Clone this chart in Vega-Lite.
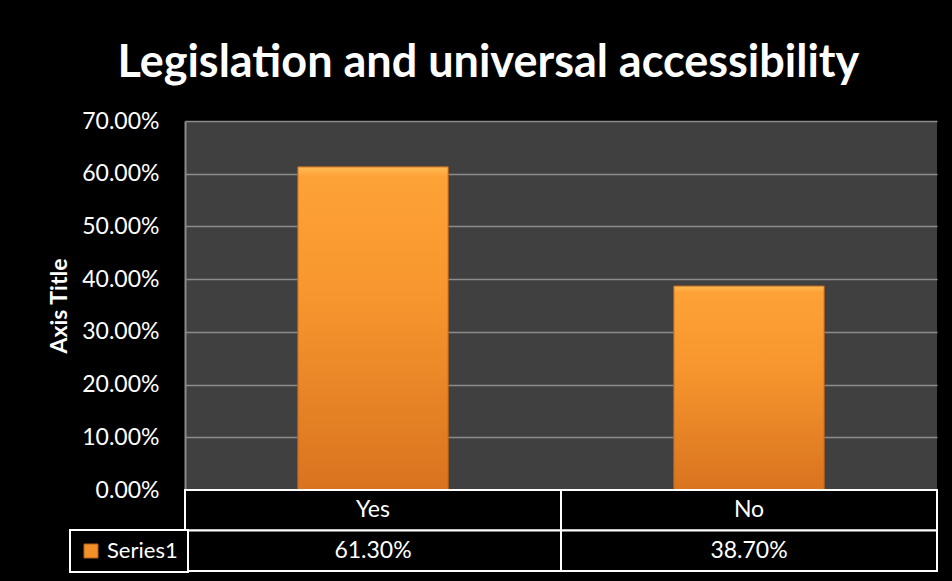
{
  "$schema": "https://vega.github.io/schema/vega-lite/v6.json",
  "background": "#000000",
  "padding": {"left": 48, "top": 41, "right": 14, "bottom": 11},
  "autosize": {"type": "pad"},
  "bounds": "flush",
  "spacing": 0,
  "title": {"text": "Legislation and universal accessibility", "font": "Lato", "fontSize": 45, "fontWeight": "bold", "color": "#ffffff", "anchor": "middle", "offset": 24, "dx": -5},
  "data": {"values": [
    {"category": "Yes", "value": 0.613, "series": "Series1"},
    {"category": "No", "value": 0.387, "series": "Series1"}
  ]},
  "config": {"view": {"stroke": null}, "font": "Lato", "legend": {"strokeWidth": 2}},
  "resolve": {"scale": {"x": "independent", "y": "independent", "color": "independent"}, "legend": {"color": "independent"}},
  "vconcat": [
    {
      "width": 752,
      "height": 369,
      "view": {"fill": "#404040", "stroke": null},
      "mark": {
        "type": "bar",
        "fill": {"gradient": "linear", "x1": 0, "y1": 0, "x2": 0, "y2": 1, "stops": [
          {"offset": 0, "color": "#ffbb55"},
          {"offset": 0.03, "color": "#fda236"},
          {"offset": 0.4, "color": "#f7962e"},
          {"offset": 1, "color": "#d9731f"}
        ]},
        "stroke": "#b8621c",
        "strokeWidth": 1
      },
      "encoding": {
        "x": {"field": "category", "type": "nominal", "sort": ["Yes", "No"], "scale": {"paddingInner": 0.6, "paddingOuter": 0.3}, "axis": null},
        "y": {"field": "value", "type": "quantitative", "scale": {"domain": [0, 0.7]},
          "axis": {"title": "Axis Title", "format": ".2%", "values": [0, 0.1, 0.2, 0.3, 0.4, 0.5, 0.6, 0.7],
            "labelColor": "#ffffff", "labelFontSize": 23, "labelFont": "Lato", "labelPadding": 26,
            "ticks": false, "domainColor": "#8c8c8c", "domainWidth": 2,
            "gridColor": "#8c8c8c", "gridWidth": 1.5,
            "titleColor": "#ffffff", "titleFontSize": 23, "titleFontWeight": "bold", "titleFont": "Lato", "titlePadding": 10}}
      }
    },
    {
      "width": 752,
      "height": 81,
      "layer": [
        {
          "mark": {"type": "rect", "fill": "#000000", "stroke": "#ffffff", "strokeWidth": 2},
          "encoding": {
            "x": {"field": "category", "type": "nominal", "sort": ["Yes", "No"], "scale": {"padding": 0}, "axis": null},
            "y": {"datum": "header", "type": "nominal", "scale": {"domain": ["header", "Series1"], "padding": 0}, "axis": null}
          }
        },
        {
          "mark": {"type": "rect", "fill": "#000000", "stroke": "#ffffff", "strokeWidth": 2},
          "encoding": {
            "x": {"field": "category", "type": "nominal", "sort": ["Yes", "No"], "scale": {"padding": 0}, "axis": null},
            "y": {"datum": "Series1", "type": "nominal", "scale": {"domain": ["header", "Series1"], "padding": 0}, "axis": null}
          }
        },
        {
          "mark": {"type": "text", "color": "#ffffff", "fontSize": 23, "font": "Lato"},
          "encoding": {
            "x": {"field": "category", "type": "nominal", "sort": ["Yes", "No"], "scale": {"padding": 0}, "axis": null},
            "y": {"datum": "header", "type": "nominal", "scale": {"domain": ["header", "Series1"], "padding": 0}, "axis": null},
            "text": {"field": "category"}
          }
        },
        {
          "mark": {"type": "text", "color": "#ffffff", "fontSize": 23, "font": "Lato"},
          "encoding": {
            "x": {"field": "category", "type": "nominal", "sort": ["Yes", "No"], "scale": {"padding": 0}, "axis": null},
            "y": {"datum": "Series1", "type": "nominal", "scale": {"domain": ["header", "Series1"], "padding": 0}, "axis": null},
            "text": {"field": "value", "format": ".2%"}
          }
        },
        {
          "transform": [{"filter": "datum.series == 'none'"}],
          "mark": {"type": "square", "opacity": 1, "filled": true},
          "encoding": {
            "color": {"field": "series", "type": "nominal", "scale": {"domain": ["Series1"], "range": ["#f39028"]},
              "legend": {"title": null, "orient": "none", "legendX": -115, "legendY": 40, "padding": 10,
                "strokeColor": "#ffffff", "fillColor": "#000000",
                "symbolType": "square", "symbolSize": 196, "symbolStrokeColor": "#b0601c", "symbolStrokeWidth": 1, "symbolOpacity": 1,
                "labelColor": "#ffffff", "labelFontSize": 22, "labelFont": "Lato", "labelOffset": 5}}
          }
        }
      ]
    }
  ]
}
